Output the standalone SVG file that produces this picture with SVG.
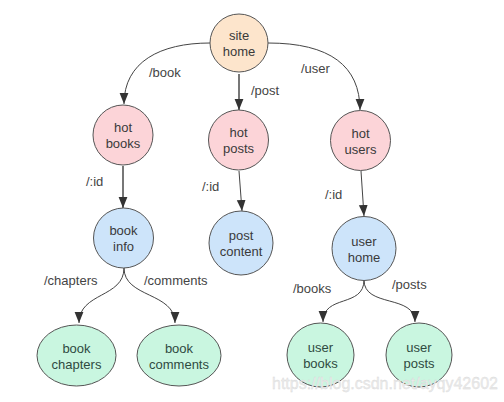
<svg xmlns="http://www.w3.org/2000/svg" width="504" height="402" viewBox="0 0 504 402">
<defs>
<style>
.n{stroke:#555;stroke-width:1}
.home{fill:#fde5cc}
.hot{fill:#fcd4d8}
.blue{fill:#cde4fa}
.green{fill:#c9f6e0}
text{font-family:"Liberation Sans",Arial,sans-serif;font-size:13px}
.t{fill:#3a3a3a;text-anchor:middle}
.g .t{fill:#2f4a40}
.l{fill:#444}
.e{fill:none;stroke:#444;stroke-width:1}
.e2{fill:none;stroke:#555;stroke-width:1.6}
.wm{font-size:16px;fill:#ececec;stroke:#d6d6d6;stroke-width:0.3}
</style>
<marker id="ah" viewBox="0 0 10 10" refX="10" refY="5" markerWidth="11" markerHeight="11" markerUnits="userSpaceOnUse" orient="auto">
<path d="M0,1 L10,5 L0,9 Z" fill="#333"/>
</marker>
</defs>
<rect width="504" height="402" fill="#fff"/>
<g id="connectors">
<path class="e" d="M210,43 C160,43 124,62 124,104" marker-end="url(#ah)"/>
<path class="e2" d="M239,74 L239,110" marker-end="url(#ah)"/>
<path class="e" d="M268,43 C330,43 360,66 360,110" marker-end="url(#ah)"/>
<path class="e2" d="M123,166 L123,208" marker-end="url(#ah)"/>
<path class="e" d="M239,171 L242,211" marker-end="url(#ah)"/>
<path class="e" d="M361,171 L364,216" marker-end="url(#ah)"/>
<path class="e" d="M124,268 C124,298 79,292 79,323" marker-end="url(#ah)"/>
<path class="e" d="M124,268 C124,298 175,292 175,323" marker-end="url(#ah)"/>
<path class="e" d="M364,280 C364,308 323,294 323,322" marker-end="url(#ah)"/>
<path class="e" d="M364,280 C364,308 415,294 415,322" marker-end="url(#ah)"/>
<text class="l" x="149" y="77">/book</text>
<text class="l" x="251" y="95">/post</text>
<text class="l" x="301" y="73">/user</text>
<text class="l" x="86" y="186">/:id</text>
<text class="l" x="202" y="191">/:id</text>
<text class="l" x="325" y="199">/:id</text>
<text class="l" x="44" y="285">/chapters</text>
<text class="l" x="144" y="285">/comments</text>
<text class="l" x="293" y="293">/books</text>
<text class="l" x="392" y="289">/posts</text>
</g>
<g id="site-home"><circle class="n home" cx="239" cy="43" r="29"/><text class="t" x="239" y="40">site</text><text class="t" x="239" y="56">home</text></g>
<g id="hot-books"><circle class="n hot" cx="123" cy="135" r="30"/><text class="t" x="123" y="132">hot</text><text class="t" x="123" y="148">books</text></g>
<g id="hot-posts"><circle class="n hot" cx="238.5" cy="140" r="30"/><text class="t" x="238.5" y="137">hot</text><text class="t" x="238.5" y="153">posts</text></g>
<g id="hot-users"><circle class="n hot" cx="360.5" cy="140.5" r="30"/><text class="t" x="360.5" y="137.5">hot</text><text class="t" x="360.5" y="153.5">users</text></g>
<g id="book-info"><circle class="n blue" cx="123.5" cy="238" r="30"/><text class="t" x="123.5" y="235">book</text><text class="t" x="123.5" y="251">info</text></g>
<g id="post-content"><circle class="n blue" cx="241" cy="243" r="32"/><text class="t" x="241" y="240">post</text><text class="t" x="241" y="256">content</text></g>
<g id="user-home"><circle class="n blue" cx="364" cy="248.5" r="32"/><text class="t" x="364" y="245.5">user</text><text class="t" x="364" y="261.5">home</text></g>
<g id="book-chapters" class="g"><ellipse class="n green" cx="76.5" cy="355.5" rx="39.5" ry="30.5"/><text class="t" x="76.5" y="352.5">book</text><text class="t" x="76.5" y="368.5">chapters</text></g>
<g id="book-comments" class="g"><ellipse class="n green" cx="179" cy="355.5" rx="42" ry="30.5"/><text class="t" x="179" y="352.5">book</text><text class="t" x="179" y="368.5">comments</text></g>
<g id="user-books" class="g"><ellipse class="n green" cx="320.5" cy="355" rx="33.5" ry="32"/><text class="t" x="320.5" y="352">user</text><text class="t" x="320.5" y="368">books</text></g>
<g id="user-posts" class="g"><ellipse class="n green" cx="419" cy="355" rx="33" ry="32"/><text class="t" x="419" y="352">user</text><text class="t" x="419" y="368">posts</text></g>
<text class="wm" x="272" y="389">https://blog.csdn.net/ayqy42602</text>
</svg>
